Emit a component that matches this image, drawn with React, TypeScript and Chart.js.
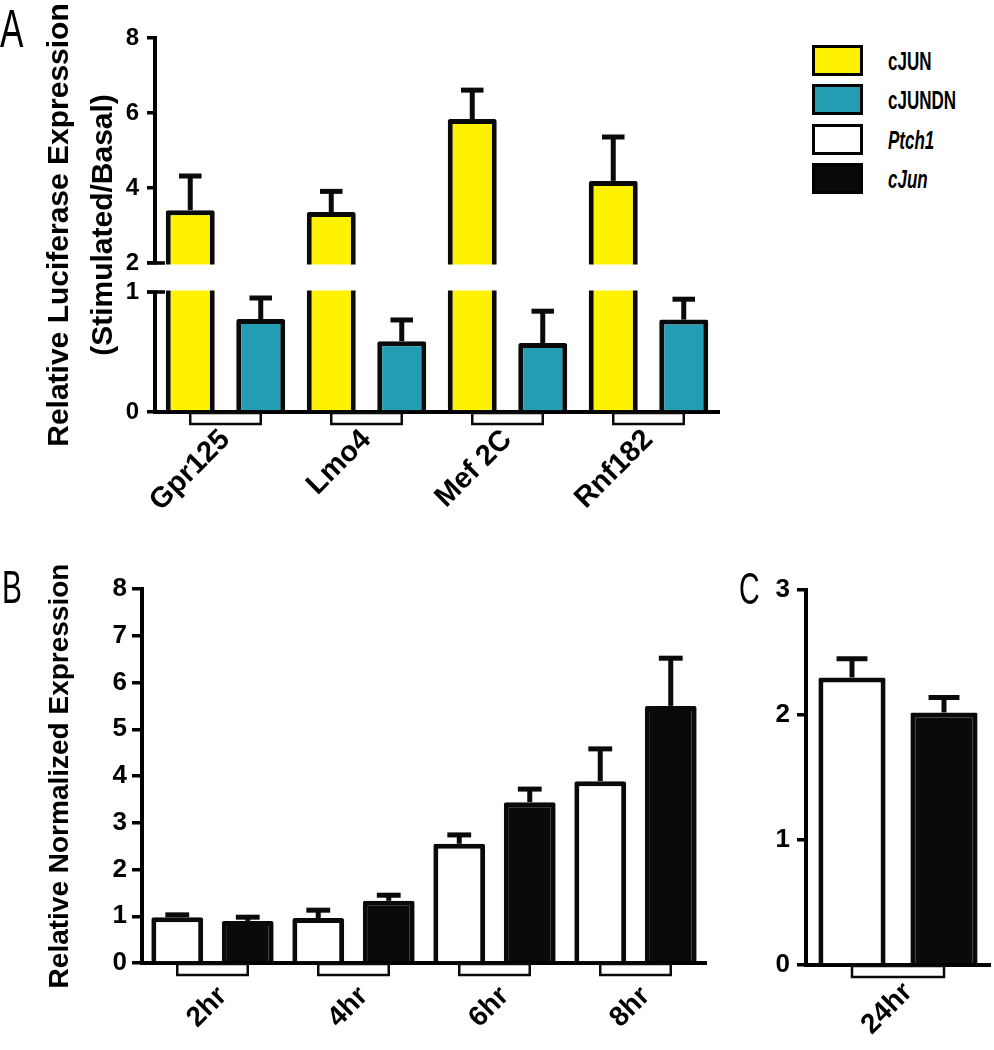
import React, { useEffect, useRef } from 'react';
import { Chart, registerables, LinearScale } from 'chart.js';

Chart.register(...registerables);

// ---------------- data ----------------
const genesA = ['Gpr125', 'Lmo4', 'Mef 2C', 'Rnf182'];
const cJUNValues = [3.41, 3.36, 5.84, 4.19];
const cJUNErrors = [0.91, 0.55, 0.77, 1.17];
const cJUNDNValues = [0.775, 0.59, 0.575, 0.77];
const cJUNDNErrors = [0.175, 0.177, 0.265, 0.17];
const ticksA = [0, 1, 2, 4, 6, 8];
const breakA = [1, 2];

const timesB = ['2hr', '4hr', '6hr', '8hr'];
const ptch1B = [0.98, 0.96, 2.55, 3.89];
const ptch1BErr = [0.05, 0.17, 0.19, 0.69];
const cJunB = [0.9, 1.33, 3.44, 5.5];
const cJunBErr = [0.08, 0.12, 0.28, 1.02];

const timesC = ['24hr'];
const ptch1C = [2.3];
const ptch1CErr = [0.15];
const cJunC = [2.02];
const cJunCErr = [0.12];

const legendLabels = ['cJUN', 'cJUNDN', 'Ptch1', 'cJun'];
const legendItalic = [false, false, true, true];

// ---------------- styles ----------------
const FONT = "'Liberation Sans', Arial, Helvetica, sans-serif";
const YELLOW = '#FFF200';
const TEAL = '#239DB2';
const WHITE = '#FFFFFF';
const BLACK = '#0A0A0A';
const legendColors = [YELLOW, TEAL, WHITE, BLACK];

// broken-axis layout fractions (lower segment, gap)
const LOW_FRAC = 120 / 374;
const GAP_FRAC = 29 / 374;

class BrokenLinearScale extends LinearScale {
  static id = 'brokenLinear';
  static defaults = LinearScale.defaults;
  brokenDecimal(v: number) {
    const [lo, hi] = breakA;
    const min = this.min;
    const max = this.max;
    if (v <= lo) return ((v - min) / (lo - min)) * LOW_FRAC;
    if (v < hi) return LOW_FRAC + ((v - lo) / (hi - lo)) * GAP_FRAC;
    return LOW_FRAC + GAP_FRAC + ((v - hi) / (max - hi)) * (1 - LOW_FRAC - GAP_FRAC);
  }
  getPixelForValue(value: number) {
    if (value === null || value === undefined || isNaN(value)) return NaN;
    return this.getPixelForDecimal(this.brokenDecimal(value));
  }
  getValueForPixel(pixel: number) {
    const [lo, hi] = breakA;
    const d = this.getDecimalForPixel(pixel);
    if (d <= LOW_FRAC) return this.min + (d / LOW_FRAC) * (lo - this.min);
    if (d < LOW_FRAC + GAP_FRAC) return lo + ((d - LOW_FRAC) / GAP_FRAC) * (hi - lo);
    return hi + ((d - LOW_FRAC - GAP_FRAC) / (1 - LOW_FRAC - GAP_FRAC)) * (this.max - hi);
  }
}
Chart.register(BrokenLinearScale as any);

const barExtras = {
  id: 'barExtras',
  afterDatasetsDraw(chart: any, _args: any, opts: any) {
    const ctx = chart.ctx;
    const y = chart.scales.y;
    const area = chart.chartArea;
    ctx.save();
    if (opts.breakAt) {
      const pLow = y.getPixelForValue(opts.breakAt[0]);
      const pHigh = y.getPixelForValue(opts.breakAt[1]);
      ctx.fillStyle = '#fff';
      ctx.fillRect(y.right - 12, pHigh + 1.5, area.right - y.right + 16, pLow - pHigh - 3);
      ctx.strokeStyle = '#000';
      ctx.lineWidth = 3.5;
      [pLow, pHigh].forEach((p: number) => {
        ctx.beginPath();
        ctx.moveTo(y.right - opts.tickLen, p);
        ctx.lineTo(y.right + 10, p);
        ctx.stroke();
      });
    }
    ctx.strokeStyle = BLACK;
    ctx.lineWidth = 5;
    ctx.lineCap = 'butt';
    chart.data.datasets.forEach((ds: any, di: number) => {
      const meta = chart.getDatasetMeta(di);
      meta.data.forEach((bar: any, j: number) => {
        const { x, y: by, width } = bar.getProps(['x', 'y', 'width'], true);
        const top = y.getPixelForValue(ds.data[j] + ds.errors[j]);
        const half = (width * opts.capRatio) / 2;
        ctx.beginPath();
        ctx.moveTo(x, by);
        ctx.lineTo(x, top);
        ctx.stroke();
        ctx.beginPath();
        ctx.moveTo(x - half, top);
        ctx.lineTo(x + half, top);
        ctx.stroke();
      });
    });
    ctx.restore();
  },
  afterDraw(chart: any, _args: any, opts: any) {
    const ctx = chart.ctx;
    const m0 = chart.getDatasetMeta(0);
    const m1 = chart.getDatasetMeta(1);
    const base = chart.scales.x.top;
    ctx.save();
    ctx.fillStyle = '#fff';
    ctx.strokeStyle = BLACK;
    ctx.lineWidth = 2.5;
    m0.data.forEach((b0: any, j: number) => {
      const b1 = m1.data[j];
      const x0 = b0.getProps(['x'], true).x;
      const x1 = b1.getProps(['x'], true).x;
      ctx.fillRect(x0, base + 1, x1 - x0, opts.bracketH);
      ctx.strokeRect(x0, base + 1, x1 - x0, opts.bracketH);
    });
    ctx.restore();
  },
};

function barDataset(label: string, data: number[], errors: number[], color: string, bp: number) {
  return {
    label,
    data,
    errors,
    backgroundColor: color,
    borderColor: BLACK,
    borderWidth: 5,
    borderRadius: 2,
    borderSkipped: 'start',
    barPercentage: bp,
    categoryPercentage: 1,
  };
}

function makeConfig(p: any) {
  return {
    type: 'bar',
    data: { labels: p.labels, datasets: p.datasets },
    plugins: [barExtras],
    options: {
      responsive: false,
      maintainAspectRatio: false,
      animation: false,
      events: [],
      layout: { padding: { top: p.padTop, right: p.padRight, bottom: 0, left: 0 } },
      plugins: {
        legend: { display: false },
        tooltip: { enabled: false },
        barExtras: { breakAt: p.breakAt, tickLen: p.tickLen, capRatio: 0.46, bracketH: 11 },
      },
      scales: {
        x: {
          type: 'category',
          offset: true,
          z: 1,
          grid: { display: false, drawTicks: false, tickLength: 0 },
          border: { display: true, color: '#000', width: 4 },
          ticks: {
            autoSkip: false,
            minRotation: 45,
            maxRotation: 45,
            padding: p.xPad,
            labelOffset: p.xOffset,
            color: '#000',
            font: { family: FONT, size: p.xFont, weight: 'bold' },
          },
          afterFit: (s: any) => {
            s.height = p.xHeight;
          },
        },
        y: {
          type: p.yType,
          min: p.yMin,
          max: p.yMax,
          afterBuildTicks: (s: any) => {
            s.ticks = p.yTicks.map((v: number) => ({ value: v }));
          },
          grid: {
            display: true,
            drawOnChartArea: false,
            drawTicks: true,
            tickLength: p.tickLen,
            color: '#000',
            lineWidth: 3.5,
          },
          border: { display: true, color: '#000', width: 4 },
          ticks: {
            color: '#000',
            padding: p.yPad,
            font: { family: FONT, size: p.yFont, weight: 'bold' },
            callback: (v: any) => String(v),
          },
          title: p.title
            ? {
                display: true,
                text: p.title,
                color: '#000',
                font: { family: FONT, size: p.titleSize, weight: 'bold', lineHeight: p.titleLH },
                padding: { top: p.titlePad, bottom: 0 },
              }
            : { display: false },
          afterFit: (s: any) => {
            s.width = p.yWidth;
          },
        },
      },
    },
  };
}

const ticksB = [0, 1, 2, 3, 4, 5, 6, 7, 8];
const ticksC = [0, 1, 2, 3];

export default function App() {
  const refA = useRef<HTMLCanvasElement>(null);
  const refB = useRef<HTMLCanvasElement>(null);
  const refC = useRef<HTMLCanvasElement>(null);

  useEffect(() => {
    const charts: Chart[] = [];
    charts.push(
      new Chart(
        refA.current as HTMLCanvasElement,
        makeConfig({
          labels: genesA,
          datasets: [
            barDataset('cJUN', cJUNValues, cJUNErrors, YELLOW, 0.695),
            barDataset('cJUNDN', cJUNDNValues, cJUNDNErrors, TEAL, 0.695),
          ],
          padTop: 38,
          padRight: 740 - 719,
          xHeight: 560 - 412,
          xPad: 11,
          xOffset: 0,
          xFont: 29,
          yType: 'brokenLinear',
          yMin: 0,
          yMax: 8,
          yTicks: ticksA,
          tickLen: 8,
          yPad: 8,
          yFont: 24,
          yWidth: 155,
          title: ['Relative Luciferase Expression', '(Stimulated/Basal)'],
          titleSize: 30,
          titleLH: 44 / 30,
          titlePad: 38,
          breakAt: breakA,
        }) as any
      )
    );
    charts.push(
      new Chart(
        refB.current as HTMLCanvasElement,
        makeConfig({
          labels: timesB,
          datasets: [
            barDataset('Ptch1', ptch1B, ptch1BErr, WHITE, 0.735),
            barDataset('cJun', cJunB, cJunBErr, BLACK, 0.735),
          ],
          padTop: 69,
          padRight: 740 - 706,
          xHeight: 530 - 443,
          xPad: 17,
          xOffset: 10,
          xFont: 28,
          yType: 'linear',
          yMin: 0,
          yMax: 8,
          yTicks: ticksB,
          tickLen: 10,
          yPad: 5,
          yFont: 26,
          yWidth: 142,
          title: 'Relative Normalized Expression',
          titleSize: 28,
          titleLH: 1.2,
          titlePad: 43,
          breakAt: null,
        }) as any
      )
    );
    charts.push(
      new Chart(
        refC.current as HTMLCanvasElement,
        makeConfig({
          labels: timesC,
          datasets: [
            barDataset('Ptch1', ptch1C, ptch1CErr, WHITE, 0.73),
            barDataset('cJun', cJunC, cJunCErr, BLACK, 0.73),
          ],
          padTop: 70,
          padRight: 4,
          xHeight: 530 - 445,
          xPad: 11,
          xOffset: 10,
          xFont: 28,
          yType: 'linear',
          yMin: 0,
          yMax: 3,
          yTicks: ticksC,
          tickLen: 9,
          yPad: 7,
          yFont: 26,
          yWidth: 86,
          title: null,
          breakAt: null,
        }) as any
      )
    );
    return () => charts.forEach((c) => c.destroy());
  }, []);

  const letter = (text: string, left: number, top: number, size: number) => (
    <div
      style={{
        position: 'absolute',
        left,
        top,
        fontFamily: FONT,
        fontSize: size,
        lineHeight: 1,
        fontWeight: 'normal',
        color: '#000',
        transform: 'scaleX(0.65)',
        transformOrigin: 'left top',
        whiteSpace: 'nowrap',
      }}
    >
      {text}
    </div>
  );

  const legendTops = [45, 84, 124, 163];

  return (
    <div
      style={{
        position: 'absolute',
        left: 0,
        top: 0,
        width: 994,
        height: 1050,
        background: '#fff',
        overflow: 'hidden',
      }}
    >
      <canvas ref={refA} width={740} height={560} style={{ position: 'absolute', left: 0, top: 0 }} />
      <canvas ref={refB} width={740} height={530} style={{ position: 'absolute', left: 0, top: 520 }} />
      <canvas ref={refC} width={274} height={530} style={{ position: 'absolute', left: 720, top: 520 }} />
      {letter('A', 0, 1, 54)}
      {letter('B', 2, 564, 46)}
      {letter('C', 739, 567, 44)}
      {legendLabels.map((lab, i) => (
        <React.Fragment key={lab}>
          <div
            style={{
              position: 'absolute',
              left: 812,
              top: legendTops[i],
              width: 51,
              height: 31,
              boxSizing: 'border-box',
              border: '3px solid #000',
              background: legendColors[i],
            }}
          />
          <div
            style={{
              position: 'absolute',
              left: 888,
              top: legendTops[i] + 1,
              height: 31,
              lineHeight: '31px',
              fontFamily: FONT,
              fontSize: 25,
              fontWeight: 'bold',
              fontStyle: legendItalic[i] ? 'italic' : 'normal',
              color: '#000',
              transform: 'scaleX(0.68)',
              transformOrigin: 'left center',
              whiteSpace: 'nowrap',
            }}
          >
            {lab}
          </div>
        </React.Fragment>
      ))}
    </div>
  );
}
